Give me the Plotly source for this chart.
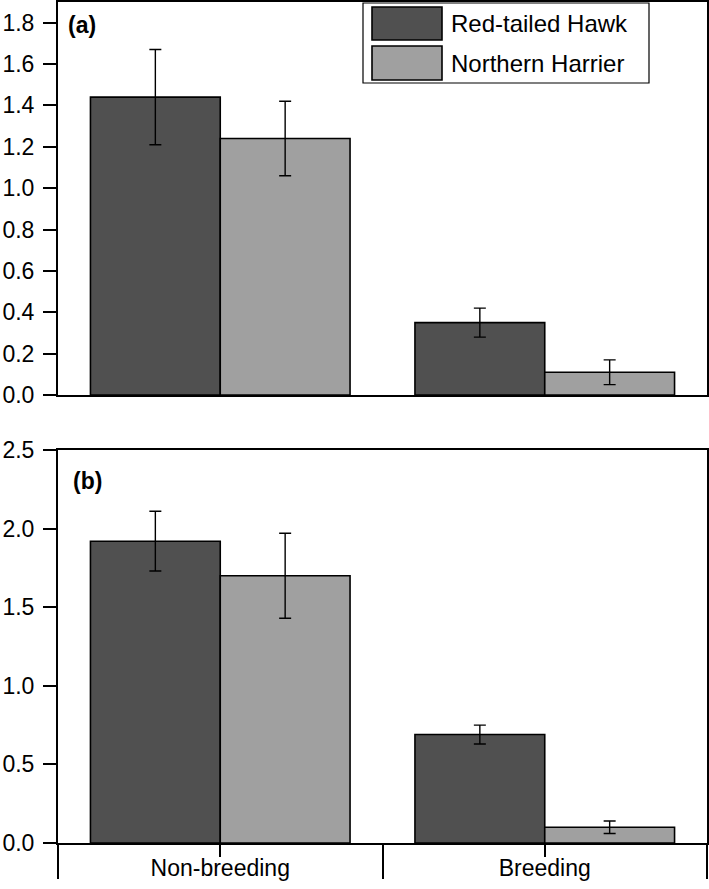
import plotly.graph_objects as go
from plotly.subplots import make_subplots

categories = ["Non-breeding", "Breeding"]
series_names = ["Red-tailed Hawk", "Northern Harrier"]

# Panel (a)
a_hawk = [1.44, 0.35]
a_hawk_err = [0.23, 0.07]
a_harrier = [1.24, 0.11]
a_harrier_err = [0.18, 0.06]

# Panel (b)
b_hawk = [1.92, 0.69]
b_hawk_err = [0.19, 0.06]
b_harrier = [1.70, 0.10]
b_harrier_err = [0.27, 0.04]

a_ticks = [0.0, 0.2, 0.4, 0.6, 0.8, 1.0, 1.2, 1.4, 1.6, 1.8]
b_ticks = [0.0, 0.5, 1.0, 1.5, 2.0, 2.5]

colors = ["#505050", "#a0a0a0"]
FONT = "Liberation Sans, Arial, sans-serif"

W, H = 709, 889
ML, MR, MT, MB = 58, 2, 2, 46
PW = W - ML - MR
PH = H - MT - MB

def px_x(p):
    return (p - ML) / PW

def px_y(p):
    return (H - MB - p) / PH

fig = make_subplots(rows=2, cols=1, vertical_spacing=0.0)

xs = list(range(len(categories)))
panels = [
    (1, [a_hawk, a_harrier], [a_hawk_err, a_harrier_err]),
    (2, [b_hawk, b_harrier], [b_hawk_err, b_harrier_err]),
]
for row, vals, errs in panels:
    for i, name in enumerate(series_names):
        fig.add_trace(go.Bar(
            x=xs, y=vals[i], name=name, showlegend=False,
            marker=dict(color=colors[i], line=dict(color="black", width=1.6)),
            error_y=dict(type="data", array=errs[i], visible=True,
                         color="black", thickness=1.4, width=6),
        ), row=row, col=1)

fig.update_layout(
    width=W, height=H,
    margin=dict(l=ML, r=MR, t=MT, b=MB, autoexpand=False),
    barmode="group", bargap=0.2, bargroupgap=0,
    plot_bgcolor="white", paper_bgcolor="white",
    font=dict(family=FONT, size=23, color="black"),
    showlegend=False,
)

axis_common = dict(showline=True, linecolor="black", linewidth=2, mirror=True,
                   showgrid=False, zeroline=False, automargin=False)

fig.update_xaxes(range=[-0.5, 1.5], **axis_common)
fig.update_yaxes(ticks="outside", ticklen=13, tickwidth=2, tickcolor="black",
                 tickformat=".1f", tickfont=dict(size=23, family=FONT),
                 ticklabelstandoff=4, **axis_common)

fig.update_layout(
    yaxis=dict(domain=[px_y(395), 1.0], range=[0, 1.9], tickmode="array", tickvals=a_ticks),
    yaxis2=dict(domain=[0.0, px_y(450)], range=[0, 2.5], tickmode="array", tickvals=b_ticks),
    xaxis=dict(showticklabels=False, ticks=""),
    xaxis2=dict(tickmode="array", tickvals=xs, ticktext=categories,
                ticks="outside", ticklen=12, tickwidth=2, tickcolor="black",
                tickfont=dict(size=23, family=FONT), ticklabelstandoff=-9,
                minor=dict(tickmode="array", tickvals=[-0.5, 0.5, 1.5], ticks="outside",
                           ticklen=34, tickwidth=2, tickcolor="black")),
)

# Panel labels
fig.add_annotation(x=px_x(66), y=px_y(25), xref="paper", yref="paper", text="<b>(a)</b>",
                   showarrow=False, xanchor="left", yanchor="middle",
                   font=dict(size=23, family=FONT))
fig.add_annotation(x=px_x(71), y=px_y(481), xref="paper", yref="paper", text="<b>(b)</b>",
                   showarrow=False, xanchor="left", yanchor="middle",
                   font=dict(size=23, family=FONT))

# Custom legend box with large swatches
fig.add_shape(type="rect", xref="paper", yref="paper",
              x0=px_x(363), x1=px_x(649), y0=px_y(83), y1=px_y(3),
              line=dict(color="black", width=1.2), fillcolor="white", layer="above")
sw_rows = [(7, 40), (46, 80)]
for i, name in enumerate(series_names):
    top, bot = sw_rows[i]
    fig.add_shape(type="rect", xref="paper", yref="paper",
                  x0=px_x(372), x1=px_x(442), y0=px_y(bot), y1=px_y(top),
                  line=dict(color="black", width=1.6), fillcolor=colors[i], layer="above")
    fig.add_annotation(x=px_x(449), y=px_y((top + bot) / 2), xref="paper", yref="paper",
                       text=name, showarrow=False, xanchor="left", yanchor="middle",
                       font=dict(size=24, family=FONT))

fig.write_html("out.html", config={"displayModeBar": False},
               post_script="document.body.style.margin='0';document.body.style.overflow='hidden';")
